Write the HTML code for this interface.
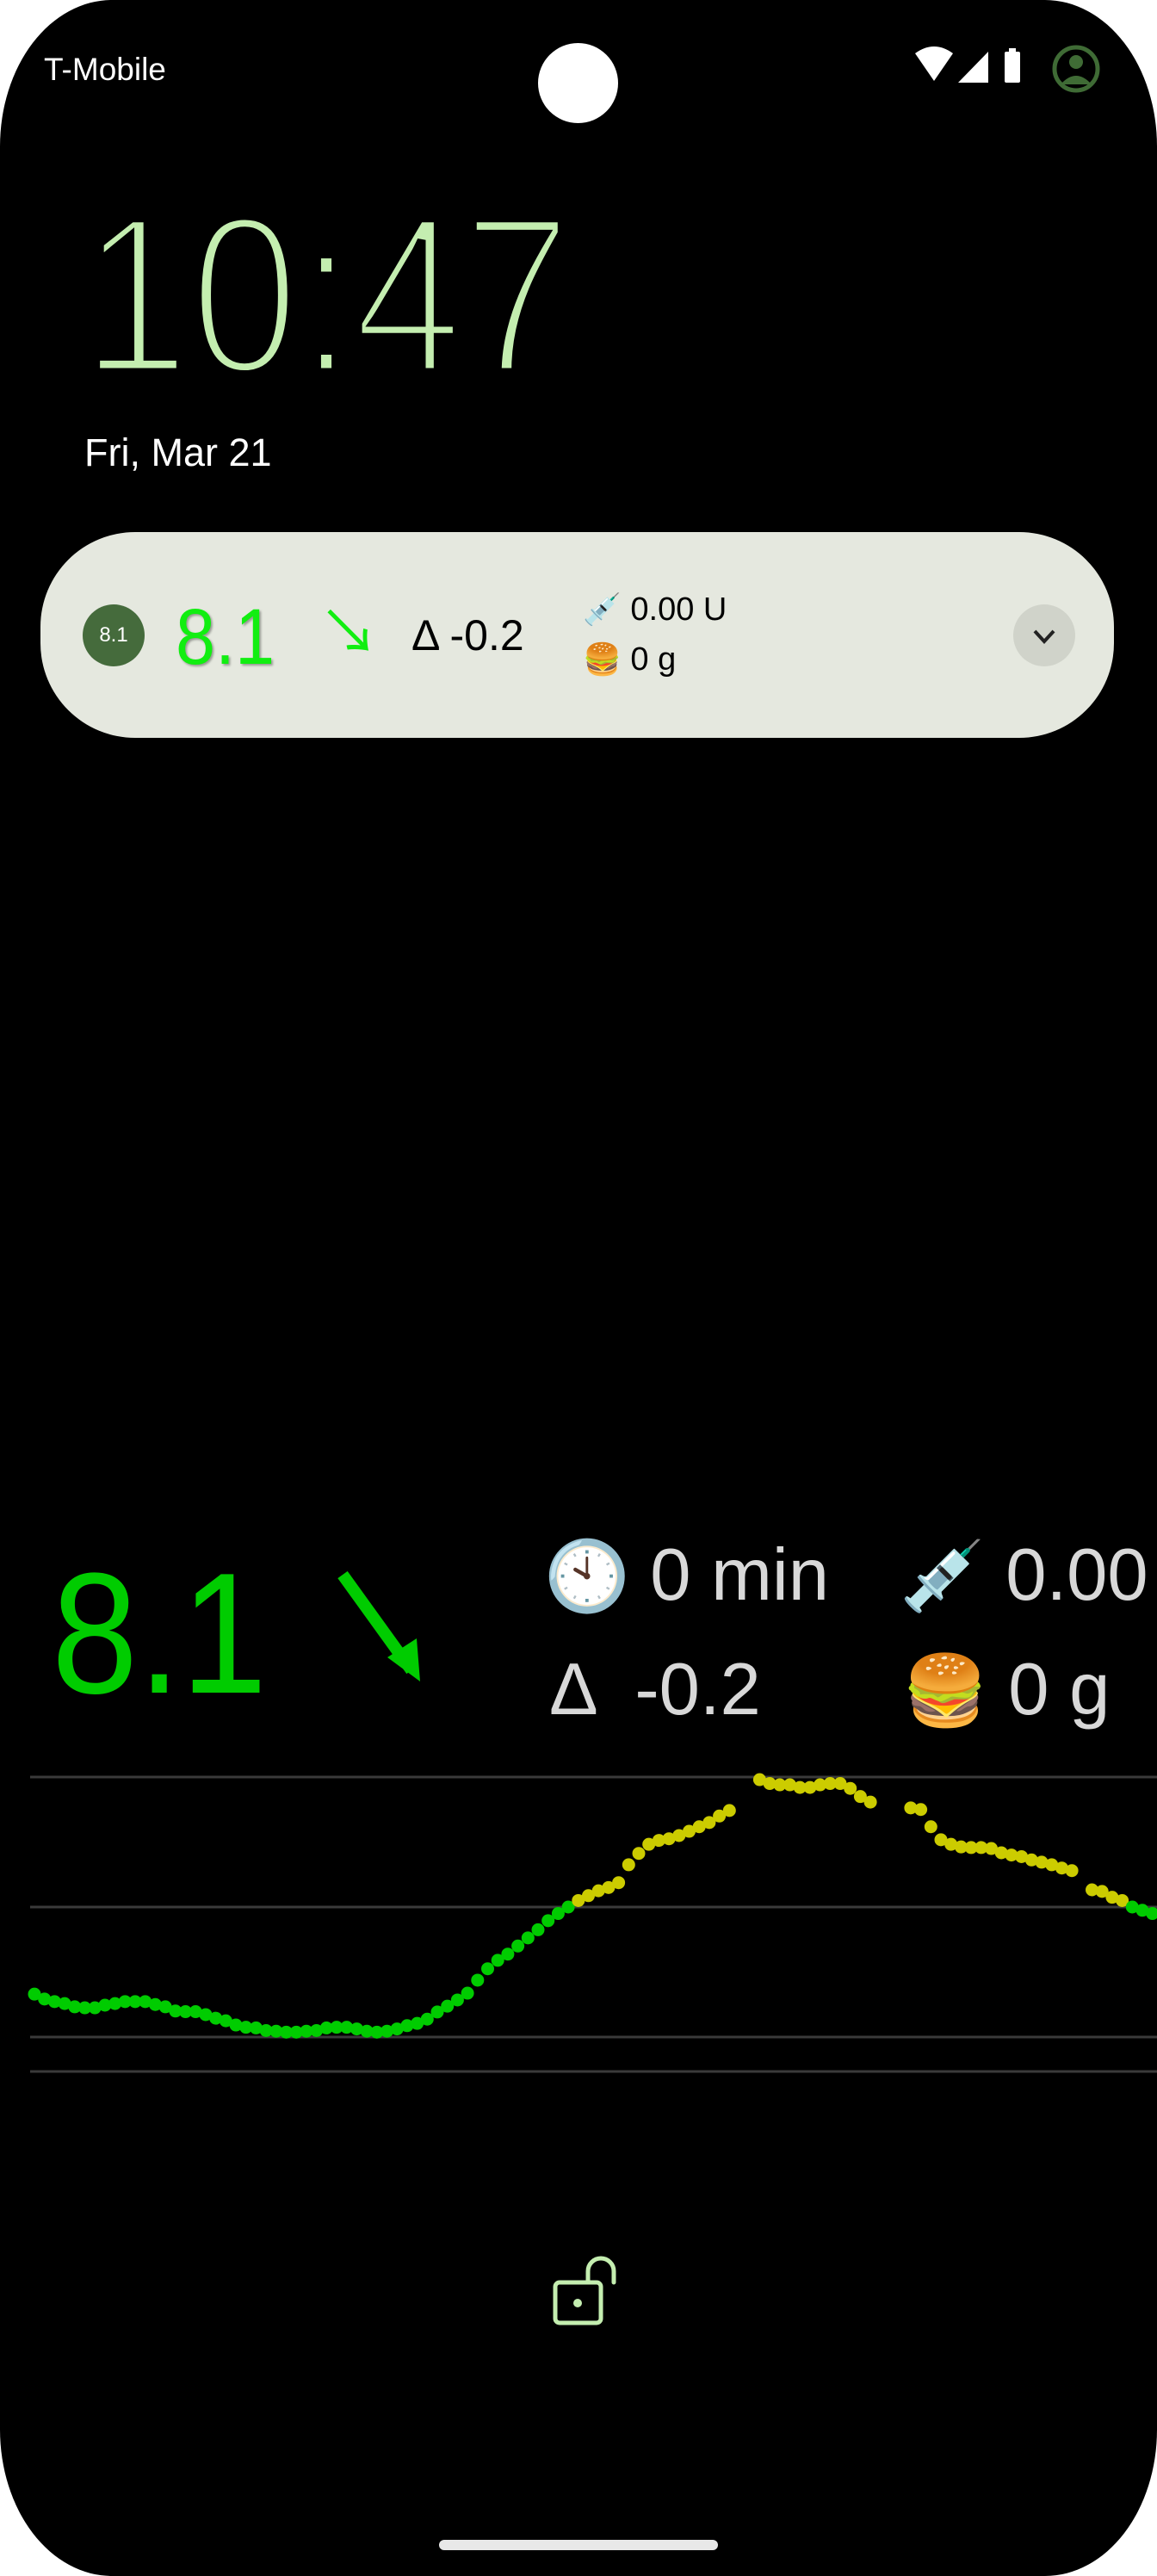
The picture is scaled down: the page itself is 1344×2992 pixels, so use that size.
<!DOCTYPE html>
<html><head><meta charset="utf-8"><style>
html,body{margin:0;padding:0;background:#fff;}
#screen{position:relative;width:1344px;height:2992px;background:#000;border-radius:130px/170px;overflow:hidden;font-family:"Liberation Sans","Noto Sans CJK JP",sans-serif;}
.abs{position:absolute;white-space:nowrap;}
</style></head><body>
<div id="screen">
  <div class="abs" style="left:51px;top:60px;font-size:37px;color:#fff;">T-Mobile</div>
  <div class="abs" style="left:625px;top:50px;width:93px;height:93px;border-radius:50%;background:#fff;"></div>
  <svg class="abs" style="left:1060px;top:50px;" width="230" height="60">
    <path d="M3 12 Q25 -4 47 12 L25 44 Z" fill="#fff"/>
    <path d="M53 46 L88 10 L88 46 Z" fill="#fff"/>
    <rect x="107" y="10" width="18" height="36" rx="2" fill="#fff"/>
    <rect x="112" y="6" width="8" height="6" fill="#fff"/>
    <circle cx="190" cy="30" r="25" fill="none" stroke="#3f6b35" stroke-width="5"/>
    <circle cx="190" cy="22" r="8" fill="#3f6b35"/>
    <path d="M172 48 Q190 28 208 48 Z" fill="#3f6b35"/>
  </svg>
  <svg class="abs" style="left:0;top:200px;" width="800" height="260">
    <text x="94" y="233" font-size="262" font-family="Liberation Sans, sans-serif" fill="#c4eeb0" stroke="#000" stroke-width="11" paint-order="fill" textLength="570" lengthAdjust="spacingAndGlyphs">10:47</text>
  </svg>
  <div class="abs" style="left:98px;top:500px;font-size:45px;color:#fff;">Fri, Mar 21</div>

  <div class="abs" style="left:47px;top:618px;width:1247px;height:239px;border-radius:110px;background:#e5e8df;">
    <div class="abs" style="left:49px;top:84px;width:72px;height:72px;border-radius:50%;background:#456b3c;color:#fff;font-size:24px;line-height:72px;text-align:center;">8.1</div>
    <div class="abs" style="left:157px;top:76px;font-size:92px;line-height:92px;color:#11ee11;text-shadow:2px 2px 3px rgba(0,0,0,.35);transform:scaleX(0.9);transform-origin:left;">8.1</div>
    <div class="abs" style="left:323px;top:82px;font-size:70px;line-height:70px;color:#11ee11;">↘</div>
    <div class="abs" style="left:431px;top:95px;font-size:50px;line-height:50px;color:#000;">Δ -0.2</div>
    <div class="abs" style="left:630px;top:68px;font-size:38px;line-height:44px;color:#000;"><span style="font-size:36px;">💉</span> 0.00 U</div>
    <div class="abs" style="left:630px;top:126px;font-size:38px;line-height:44px;color:#000;"><span style="font-size:36px;">🍔</span> 0 g</div>
    <div class="abs" style="left:1130px;top:84px;width:72px;height:72px;border-radius:50%;background:#d0d3ca;">
      <svg width="72" height="72"><path d="M25 31 L36 43 L47 31" fill="none" stroke="#222" stroke-width="4"/></svg>
    </div>
  </div>

  <div class="abs" style="left:60px;top:1798px;font-size:200px;line-height:200px;color:#00cc00;transform:scaleX(0.9);transform-origin:left;">8.1</div>
  <svg class="abs" style="left:390px;top:1825px;" width="110" height="135">
    <line x1="8" y1="4" x2="88" y2="115" stroke="#00cc00" stroke-width="14"/>
    <path d="M60 100 L98 128 L94 78 Z" fill="#00cc00"/>
  </svg>
  <div class="abs" style="left:632px;top:1780px;font-size:85px;line-height:100px;color:#d8d8d8;"><span style="font-size:80px;">🕙</span> 0 min</div>
  <div class="abs" style="left:1045px;top:1780px;font-size:85px;line-height:100px;color:#d8d8d8;"><span style="font-size:80px;">💉</span> 0.00 U</div>
  <div class="abs" style="left:638px;top:1913px;font-size:85px;line-height:100px;color:#d8d8d8;">Δ &nbsp;-0.2</div>
  <div class="abs" style="left:1048px;top:1913px;font-size:85px;line-height:100px;color:#d8d8d8;"><span style="font-size:80px;">🍔</span> 0 g</div>

  <svg class="abs" id="chart" style="left:0;top:2040px;" width="1344" height="390"></svg>

  <svg class="abs" style="left:640px;top:2618px;" width="80" height="86">
    <rect x="5" y="33" width="53" height="47" rx="5" fill="none" stroke="#c4eeb0" stroke-width="5"/>
    <circle cx="31" cy="57" r="5" fill="#c4eeb0"/>
    <path d="M43 33 V20 A15 15 0 0 1 73 20 V33" fill="none" stroke="#c4eeb0" stroke-width="5" stroke-linecap="round"/>
  </svg>
  <div class="abs" style="left:510px;top:2950px;width:324px;height:12px;border-radius:6px;background:#e8e8e8;"></div>
</div>
<script>
const gridValues = [12, 8, 4];
const glucose = [5.32,5.17,5.09,5.03,4.93,4.9,4.9,4.98,5.03,5.09,5.09,5.09,5.0,4.93,4.8,4.78,4.78,4.69,4.58,4.5,4.37,4.3,4.28,4.2,4.18,4.15,4.15,4.18,4.2,4.28,4.3,4.3,4.25,4.18,4.15,4.18,4.25,4.35,4.42,4.55,4.77,4.95,5.14,5.35,5.75,6.1,6.36,6.55,6.8,7.05,7.3,7.58,7.8,8.0,8.2,8.35,8.5,
8.6,8.75,9.3,9.65,9.93,10.05,10.1,10.2,10.33,10.47,10.6,10.8,10.97,null,null,
11.92,11.8,11.76,11.76,11.68,11.68,11.76,11.8,11.8,11.65,11.4,11.23,null,null,null,
11.05,11.0,10.47,10.07,9.93,9.85,9.83,9.83,9.8,9.67,9.6,9.55,9.45,9.38,9.3,9.2,9.12,null,
8.53,8.48,8.3,8.2,8.0,7.9,7.8];
const highThreshold = 8.05;
const svg = document.getElementById('chart');
const NS = 'http://www.w3.org/2000/svg';
function yScale(v){ return 175 - (v - 8) * 37.75; }
function xScale(i){ return 40 + i * 11.7; }
gridValues.forEach(g => {
  const l = document.createElementNS(NS, 'line');
  
  
  l.setAttribute('x1', 35); l.setAttribute('x2', 1344);
  l.setAttribute('y1', yScale(g)); l.setAttribute('y2', yScale(g));
  l.setAttribute('stroke', '#3a3a3a'); l.setAttribute('stroke-width', 3);
  svg.appendChild(l);
});
const base = document.createElementNS(NS, 'line');


base.setAttribute('x1', 35); base.setAttribute('x2', 1344);
base.setAttribute('y1', 366); base.setAttribute('y2', 366);
base.setAttribute('stroke', '#3a3a3a'); base.setAttribute('stroke-width', 3);
svg.appendChild(base);
glucose.forEach((v, i) => {
  if (v === null) return;
  const c = document.createElementNS(NS, 'circle');
  
  
  c.setAttribute('cx', xScale(i)); c.setAttribute('cy', yScale(v));
  c.setAttribute('r', 7.5);
  c.setAttribute('fill', v > highThreshold ? '#cccc00' : '#00cc00');
  svg.appendChild(c);
});
</script>
</body></html>
